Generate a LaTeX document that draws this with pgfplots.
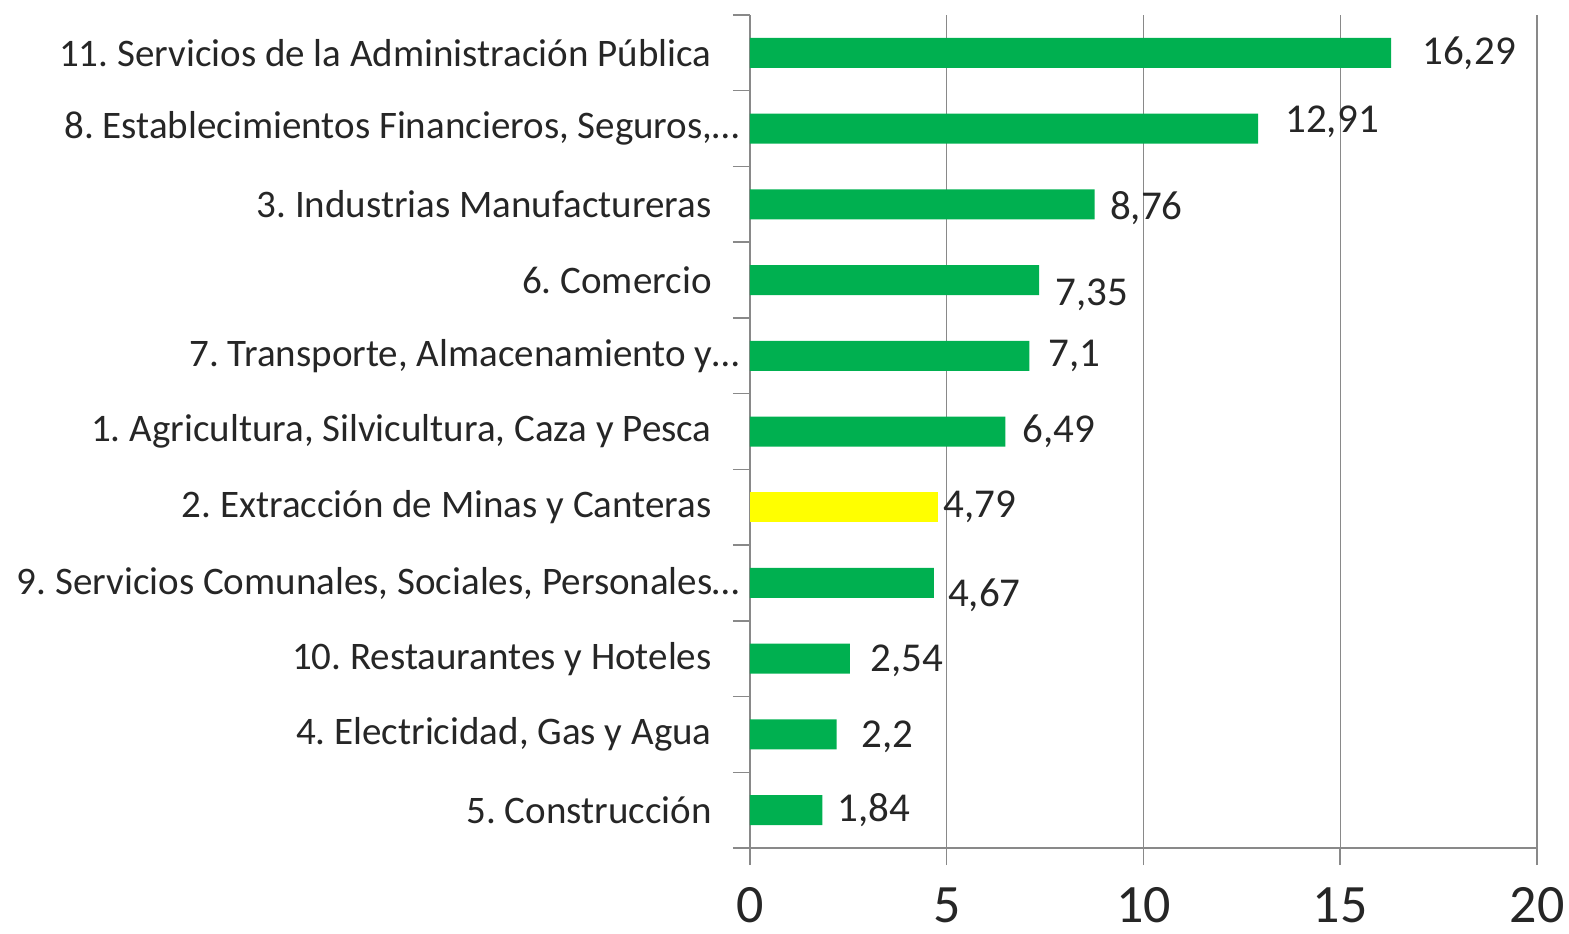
\documentclass[border=0pt]{standalone}
\usepackage{pgfplots}
\pgfplotsset{compat=1.18}
\usepackage{pgfplotstable}
\usepackage{fontspec}
\setmainfont{Carlito}
\frenchspacing
\definecolor{exgreen}{HTML}{00B050}
\definecolor{exyellow}{HTML}{FFFF00}
\definecolor{axgray}{HTML}{898989}
\definecolor{txt}{HTML}{262626}
\pgfplotstableread{
y val lab dx dy
0 1.84 1,84 7.5 0
1 2.2 2,2 12.5 -1
2 2.54 2,54 10 -1
3 4.67 4,67 7 -6
5 6.49 6,49 8.5 0
6 7.1 7,1 9.5 0
7 7.35 7,35 8 -7.5
8 8.76 8,76 7.5 -2
9 12.91 12,91 13.5 3.5
10 16.29 16,29 15.5 0
}\greendata
\pgfplotstableread{
y val lab dx dy
4 4.79 4,79 2.5 0
}\yellowdata
\begin{document}
\begin{tikzpicture}
\begin{axis}[
  scale only axis,
  width=393.5pt, height=416.5pt,
  xmin=0, xmax=20, ymin=-0.5, ymax=10.5,
  axis x line*=bottom, axis y line*=left,
  axis line style={axgray, line width=0.75pt},
  xtick={0,5,10,15,20},
  xmajorgrids, grid style={axgray, line width=0.6pt},
  tick align=outside,
  major tick length=8.5pt,
  tick style={axgray, line width=0.75pt},
  /pgf/number format/assume math mode=true,
  xticklabel style={font=\fontsize{27}{30}\selectfont, text=txt, inner sep=0pt, text depth=0pt, anchor=north, yshift=-11pt},
  ytick={-0.5,0.5,...,10.5},
  yticklabels={},
  extra y ticks={0,1,2,3,4,5,6,7,8,9,10},
  extra y tick labels={
    5. Construcción\kern14pt,
    4. Electricidad{,} Gas y Agua\kern14pt,
    10. Restaurantes y Hoteles\kern14pt,
    {9. Servicios Comunales, Sociales, Personales…},
    2. Extracción de Minas y Canteras\kern14pt,
    {1. Agricultura, Silvicultura, Caza y Pesca\kern14pt},
    {7. Transporte, Almacenamiento y…},
    6. Comercio\kern14pt,
    3. Industrias Manufactureras\kern14pt,
    {8. Establecimientos Financieros, Seguros,…},
    11. Servicios de la Administración Pública\kern14pt},
  extra y tick style={major tick length=0pt, yticklabel style={font=\fontsize{19.5}{23}\selectfont, text=txt, anchor=east, inner sep=0pt, xshift=-5pt}},
  every node near coord/.style={font=\fontsize{20.5}{24}\selectfont, text=txt, anchor=west, inner sep=0pt},
  nodes near coords,
  point meta=explicit symbolic,
  visualization depends on={\thisrow{dx} \as \dx},
  visualization depends on={\thisrow{dy} \as \dy},
  nodes near coords style={xshift=\dx pt, yshift=\dy pt},
  clip=false,
]
\addplot[xbar, bar width=15pt, bar shift=0pt, fill=exgreen, draw=none] table[x=val, y=y, meta=lab]{\greendata};
\addplot[xbar, bar width=15pt, bar shift=0pt, fill=exyellow, draw=none] table[x=val, y=y, meta=lab]{\yellowdata};
\end{axis}
\path (current axis.south west) ++(-375pt,-42.5pt) rectangle ++(784.5pt,466.5pt);
\end{tikzpicture}
\end{document}
